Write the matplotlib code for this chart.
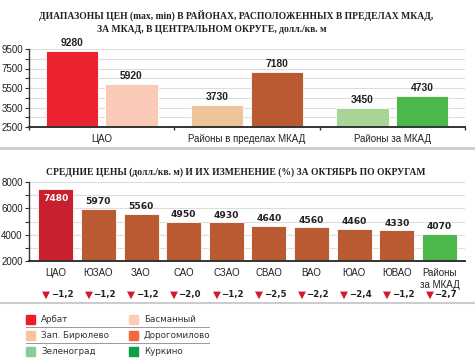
import matplotlib
matplotlib.use("Agg")
import matplotlib.pyplot as plt
from matplotlib.patches import Rectangle
from matplotlib.transforms import blended_transform_factory

# --- data ---
groups = ["ЦАО", "Районы в пределах МКАД", "Районы за МКАД"]
districts = ["Арбат", "Басманный", "Зап. Бирюлево", "Дорогомилово", "Зеленоград", "Куркино"]
district_group = [0, 0, 1, 1, 2, 2]
district_price = [9280, 5920, 3730, 7180, 3450, 4730]
bar_colors = ["#ec2431", "#fbcab6", "#f0c49a", "#ba5a33", "#a8d597", "#4cb84a"]
legend_colors = ["#ee1d25", "#fccdbb", "#f9c49d", "#f26a3a", "#8ecb9c", "#0f9f4a"]
range_ticks = [1500, 3500, 5500, 7500, 9500]
range_tick_labels = ["2500", "3500", "5500", "7500", "9500"]

okrugs = ["ЦАО", "ЮЗАО", "ЗАО", "САО", "СЗАО", "СВАО", "ВАО", "ЮАО", "ЮВАО", "Районы\nза МКАД"]
avg_price = [7480, 5970, 5560, 4950, 4930, 4640, 4560, 4460, 4330, 4070]
change_pct = [-1.2, -1.2, -1.2, -2.0, -1.2, -2.5, -2.2, -2.4, -1.2, -2.7]
okrug_colors = ["#c8202e"] + ["#ba5a33"] * 8 + ["#4cb84a"]

narrow = ["Liberation Sans", "DejaVu Sans"]
dark = "#222222"

fig = plt.figure(figsize=(4.75, 3.62), dpi=100)

# overlay for titles, separators and legend (pixel coordinates)
lay = fig.add_axes([0, 0, 1, 1], zorder=-1)
lay.set_xlim(0, 475)
lay.set_ylim(362, 0)
lay.axis("off")

title_kw = dict(family=["Liberation Serif", "DejaVu Serif"], weight="bold", fontsize=6.9,
                color=dark, ha="center", va="center")
lay.text(236, 15, "ДИАПАЗОНЫ ЦЕН (max, min) В РАЙОНАХ, РАСПОЛОЖЕННЫХ В ПРЕДЕЛАХ МКАД,", **title_kw)
lay.text(212, 30, "ЗА МКАД, В ЦЕНТРАЛЬНОМ ОКРУГЕ, долл./кв. м", **title_kw)
lay.text(236, 172, "СРЕДНИЕ ЦЕНЫ (долл./кв. м) И ИХ ИЗМЕНЕНИЕ (%) ЗА ОКТЯБРЬ ПО ОКРУГАМ", **title_kw)

lay.plot([0, 475], [148, 148], color="#cccccc", lw=2)
lay.plot([0, 475], [303, 303], color="#cccccc", lw=1.5)

# legend
for i, (name, col) in enumerate(zip(districts, legend_colors)):
    row, column = divmod(i, 2)
    x0 = 26 + column * 103
    y0 = 319 + row * 16
    lay.add_patch(Rectangle((x0, y0 - 4.5), 9, 9, color=col))
    lay.text(x0 + 15, y0, name, family="DejaVu Sans", fontsize=6.3, color="#333333", va="center")
for y in (327, 343):
    lay.plot([26, 209], [y, y], color="#999999", lw=0.7)


def style_axes(ax):
    for s in ("top", "right"):
        ax.spines[s].set_visible(False)
    ax.spines["left"].set_color("#333333")
    ax.spines["bottom"].set_color("#333333")
    ax.spines["left"].set_linewidth(1.0)
    ax.spines["bottom"].set_linewidth(1.4)
    ax.set_axisbelow(True)
    ax.grid(axis="y", which="both", color="#dddddd", lw=0.8)
    ax.tick_params(axis="y", which="both", length=3, width=0.8, color="#333333", pad=1.5)
    for lbl in ax.get_yticklabels():
        lbl.set_family(narrow)
        lbl.set_fontsize(7)
        lbl.set_color(dark)


# --- top chart: price ranges ---
ax1 = fig.add_axes([29 / 475, 1 - 127 / 362, 436 / 475, 78 / 362])
xpos = [g + 0.5 + (-0.205 if i % 2 == 0 else 0.205) for i, g in enumerate(district_group)]
bars = ax1.bar(xpos, district_price, width=0.36, color=bar_colors, edgecolor="white", lw=0.6)
for b, v in zip(bars, district_price):
    ax1.annotate(str(v), (b.get_x() + b.get_width() / 2, v), xytext=(0, 2), textcoords="offset points",
                 ha="center", va="bottom", family=narrow, weight="bold", fontsize=7.4, color=dark)
ax1.set_xlim(0, 3)
ax1.set_ylim(1500, 9500)
ax1.set_yticks(range_ticks)
ax1.set_yticklabels(range_tick_labels)
ax1.set_yticks(range(2500, 9500, 2000), minor=True)
ax1.set_xticks([0, 1, 2, 3])
ax1.set_xticklabels([])
ax1.set_xticks([0.5, 1.5, 2.5], minor=True)
ax1.set_xticklabels(groups, minor=True, family=narrow, fontsize=7, color=dark)
ax1.tick_params(axis="x", which="major", length=2.5, width=1, color="#333333")
ax1.tick_params(axis="x", which="minor", length=0, pad=5)
style_axes(ax1)

# --- bottom chart: average prices ---
ax2 = fig.add_axes([29 / 475, 1 - 261 / 362, 436 / 475, 79 / 362])
xs = list(range(len(okrugs)))
bars2 = ax2.bar(xs, avg_price, width=0.82, color=okrug_colors, edgecolor="white", lw=0.6)
for i, (b, v) in enumerate(zip(bars2, avg_price)):
    if i == 0:
        ax2.annotate(str(v), (i, v), xytext=(0, -7), textcoords="offset points", ha="center", va="center",
                     family="DejaVu Sans", weight="bold", fontsize=6.6, color="white")
    else:
        ax2.annotate(str(v), (i, v), xytext=(0, 2), textcoords="offset points", ha="center", va="bottom",
                     family="DejaVu Sans", weight="bold", fontsize=6.6, color=dark)
ax2.set_xlim(-0.63, 9.6)
ax2.set_ylim(2000, 8000)
ax2.set_yticks([2000, 4000, 6000, 8000])
ax2.set_yticks([3000, 5000, 7000], minor=True)
ax2.set_xticks(xs)
ax2.set_xticklabels(okrugs, family=narrow, fontsize=7, color=dark, linespacing=1.2)
ax2.tick_params(axis="x", length=0, pad=5)
style_axes(ax2)

trans = blended_transform_factory(ax2.transData, ax2.transAxes)
for i, c in enumerate(change_pct):
    ax2.text(i - 0.23, -0.43, "\u25bc", transform=trans, ha="center", va="center",
             family="DejaVu Sans", fontsize=7.5, color="#d0192b")
    ax2.text(i - 0.12, -0.43, "\u2212" + f"{abs(c):.1f}".replace(".", ","), transform=trans,
             ha="left", va="center", family="DejaVu Sans", weight="bold", fontsize=6.2, color=dark)

fig.savefig("out.png", dpi=100)
